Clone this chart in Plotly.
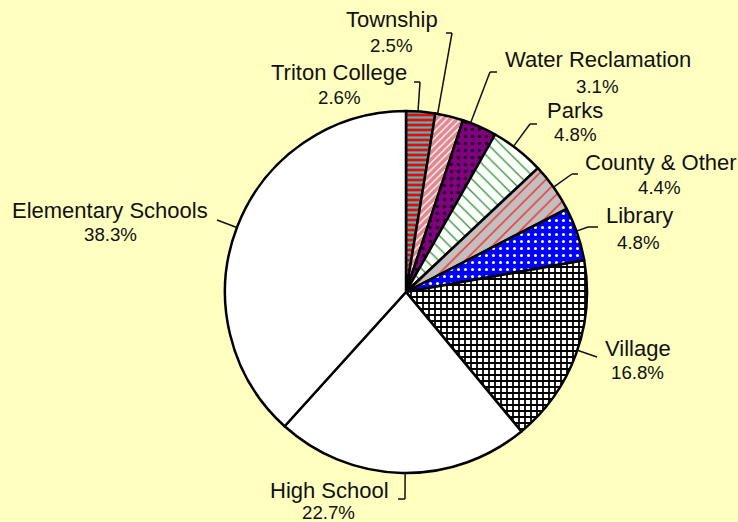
import math
import plotly.graph_objects as go

# ---- data ----
categories = ["Triton College", "Township", "Water Reclamation", "Parks",
              "County & Other", "Library", "Village", "High School",
              "Elementary Schools"]
shares = [2.6, 2.5, 3.1, 4.8, 4.4, 4.8, 16.8, 22.7, 38.3]

# ---- styles ----
bg_colors = ["#FF0000", "#E08890", "#800080", "#FFFFFF", "#C0C0C0",
             "#0000FF", "#FFFFFF", "#FFFFFF", "#FFFFFF"]
fg_colors = ["#3FBFBF", "#FFFFFF", "#1A001A", "#2E9A2E", "#FF2020",
             "#FFFFFF", "#000000", "#FFFFFF", "#FFFFFF"]
shapes_pat = ["-", "/", ".", "\\", "/", ".", "+", "", ""]
sizes_pat = [5, 5, 7, 9, 9, 7, 6, 8, 8]
solid_pat = [0.45, 0.25, 0.18, 0.15, 0.15, 0.15, 0.5, 0.3, 0.3]

W, H = 738, 522
CX, CY, R = 406, 292, 181

# layout positions of labels: (label centre, percent centre) and leader outer points
label_pos = {
    "Triton College": ((339, 73), (339, 97), [(420, 82), (414, 82)]),
    "Township": ((392, 20), (391, 45), [(452, 33), (446, 33)]),
    "Water Reclamation": ((598, 60), (597, 86), [(490, 72), (497, 72)]),
    "Parks": ((575, 110), (575, 135), [(530, 124), (537, 124)]),
    "County & Other": ((661, 163), (659, 188), [(572, 174), (578, 174)]),
    "Library": ((639, 216), (638, 242), [(588, 227), (598, 227)]),
    "Village": ((638, 348), (637, 372), [(597, 357)]),
    "High School": ((329, 490), (328, 512), [(405, 499), (398, 499)]),
    "Elementary Schools": ((110, 210), (110, 234), [(217, 220)]),
}

def px(x):
    return x / W

def py(y):
    return 1 - y / H

fig = go.Figure()
fig.add_trace(go.Pie(
    labels=categories, values=shares, sort=False, direction="clockwise",
    rotation=0, textinfo="none", hoverinfo="label+percent",
    marker=dict(colors=bg_colors, line=dict(color="#000000", width=2.5),
                pattern=dict(shape=shapes_pat, fgcolor=fg_colors,
                             bgcolor=bg_colors, size=sizes_pat,
                             solidity=solid_pat, fillmode="replace")),
    domain=dict(x=[(CX - R) / W, (CX + R) / W],
                y=[(H - CY - R) / H, (H - CY + R) / H]),
    showlegend=False,
))

annotations = []
shapes = []
for cat, val in zip(categories, shares):
    (lx, ly), (vx, vy), outer = label_pos[cat]
    annotations.append(dict(x=px(lx), y=py(ly), xref="paper", yref="paper",
                            text=cat, showarrow=False, xanchor="center",
                            yanchor="middle",
                            font=dict(family="Liberation Sans, Arial", size=22,
                                      color="#111111")))
    annotations.append(dict(x=px(vx), y=py(vy), xref="paper", yref="paper",
                            text=f"{val}%", showarrow=False, xanchor="center",
                            yanchor="middle",
                            font=dict(family="Liberation Sans, Arial", size=18.7,
                                      color="#111111")))
    # leader line: from the circle edge toward the first outer point
    ox, oy = outer[0]
    dx, dy = ox - CX, oy - CY
    d = math.hypot(dx, dy)
    sx, sy = CX + R * dx / d, CY + R * dy / d
    pts = [(sx, sy)] + outer
    for (x0, y0), (x1, y1) in zip(pts[:-1], pts[1:]):
        shapes.append(dict(type="line", xref="paper", yref="paper",
                           x0=px(x0), y0=py(y0), x1=px(x1), y1=py(y1),
                           line=dict(color="#111111", width=1.5)))

fig.update_layout(
    width=W, height=H,
    margin=dict(l=0, r=0, t=0, b=0),
    paper_bgcolor="#FFFFC0",
    plot_bgcolor="#FFFFC0",
    annotations=annotations,
    shapes=shapes,
)

fig.write_html("out.html",
               config={"displayModeBar": False},
               post_script="document.body.style.margin='0';"
                           "document.body.style.background='#FFFFC0';")
